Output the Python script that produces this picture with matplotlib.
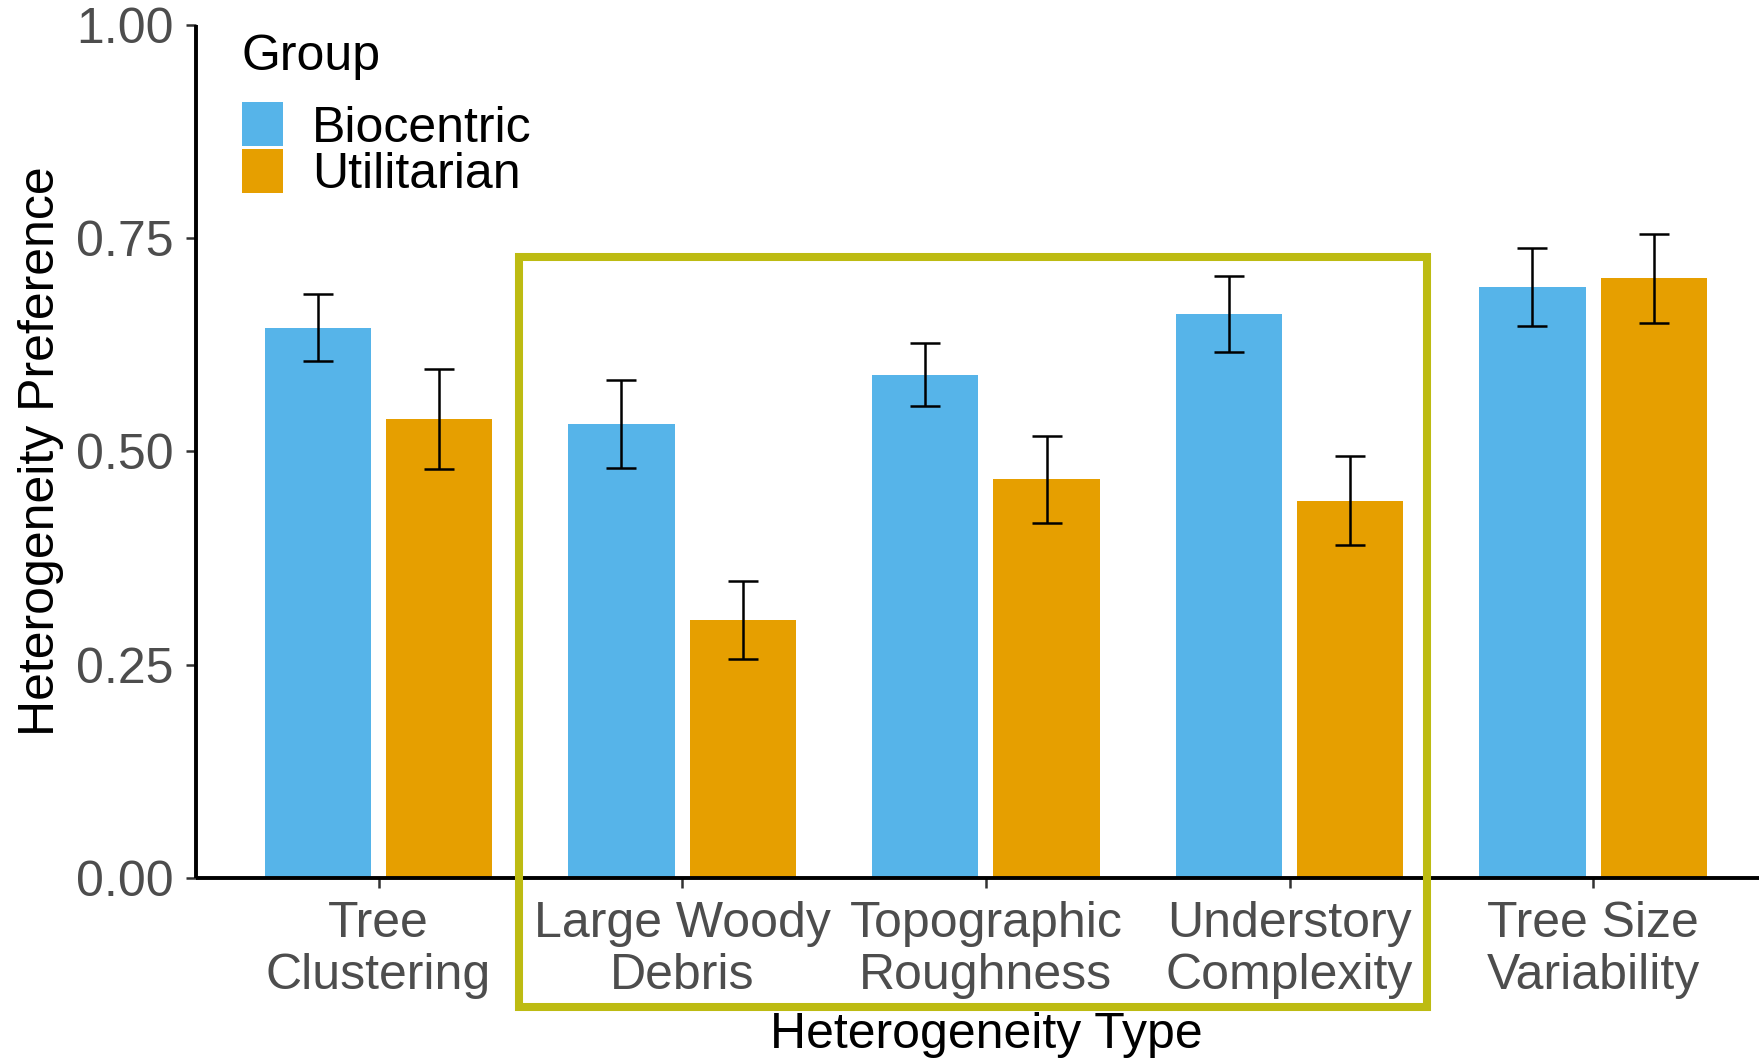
import numpy as np
import matplotlib
matplotlib.use("Agg")
import matplotlib.pyplot as plt
from matplotlib.patches import Rectangle

plt.rcParams["font.family"] = ["Liberation Sans", "DejaVu Sans"]

# preference by heterogeneity type, mean +/- standard error
categories = [
    "Tree\nClustering",
    "Large Woody\nDebris",
    "Topographic\nRoughness",
    "Understory\nComplexity",
    "Tree Size\nVariability",
]
groups = ["Biocentric", "Utilitarian"]
bio_mean = [0.645, 0.532, 0.590, 0.661, 0.693]
bio_err = [0.039, 0.052, 0.037, 0.045, 0.046]
util_mean = [0.538, 0.302, 0.467, 0.442, 0.703]
util_err = [0.059, 0.046, 0.051, 0.052, 0.052]
yticks = [0.00, 0.25, 0.50, 0.75, 1.00]

clor = ["#56B4E9", "#E69F00"]
box_color = "#BDBB12"
W, H = 1759, 1060
fs = 36

fig = plt.figure(figsize=(W / 100, H / 100), dpi=100)
ax = fig.add_axes([196.3 / W, (H - 877.7) / H, 1579.1 / W, 852.7 / H])

x = np.arange(len(categories))
width = 0.35
dodge = 0.2
for i, (mean, err) in enumerate([(bio_mean, bio_err), (util_mean, util_err)]):
    xs = x + (i * 2 - 1) * dodge
    ax.bar(xs, mean, width=width, color=clor[i], zorder=2)
    ax.errorbar(xs, mean, yerr=err, fmt="none", ecolor="black",
                elinewidth=1.8, capsize=11, capthick=1.8, zorder=3)

ax.set_xlim(-0.6, len(categories) - 0.4)
ax.set_ylim(0, 1)
ax.set_xticks(x)
ax.set_xticklabels(categories, linespacing=1.17)
ax.set_yticks(yticks)
ax.set_yticklabels(["%.2f" % t for t in yticks])

for s in ["top", "right"]:
    ax.spines[s].set_visible(False)
for s in ["left", "bottom"]:
    ax.spines[s].set_linewidth(2.8)
    ax.spines[s].set_color("black")
    ax.spines[s].set_capstyle("butt")
ax.tick_params(axis="both", length=7, width=1.8, color="#333333",
               labelcolor="#4D4D4D", labelsize=fs)
ax.tick_params(axis="x", pad=10)
ax.tick_params(axis="y", pad=9.5)

# highlighted groups
rect = Rectangle((0.463, -0.1516), 3.453 - 0.463, 0.7276 + 0.1516,
                 fill=False, edgecolor=box_color, linewidth=5.8,
                 clip_on=False, zorder=4)
ax.add_patch(rect)

# axis titles
fig.text(985.9 / W, (H - 1048) / H, "Heterogeneity Type", fontsize=fs,
         ha="center", va="baseline", color="black")
fig.text(53.8 / W, (H - 451.35) / H, "Heterogeneity Preference", fontsize=fs,
         ha="center", va="baseline", rotation=90, rotation_mode="anchor",
         color="black")

# legend
fig.text(242 / W, (H - 70) / H, "Group", fontsize=fs, va="baseline", ha="left")
key_tops = [102, 149]
label_base = [142, 188]
for i, g in enumerate(groups):
    fig.add_artist(Rectangle((242 / W, (H - key_tops[i] - 44) / H), 41 / W, 44 / H,
                             transform=fig.transFigure, facecolor=clor[i],
                             edgecolor="none"))
    fig.text(312 / W, (H - label_base[i]) / H, g, fontsize=fs,
             va="baseline", ha="left")

fig.savefig("out.png", dpi=100)
